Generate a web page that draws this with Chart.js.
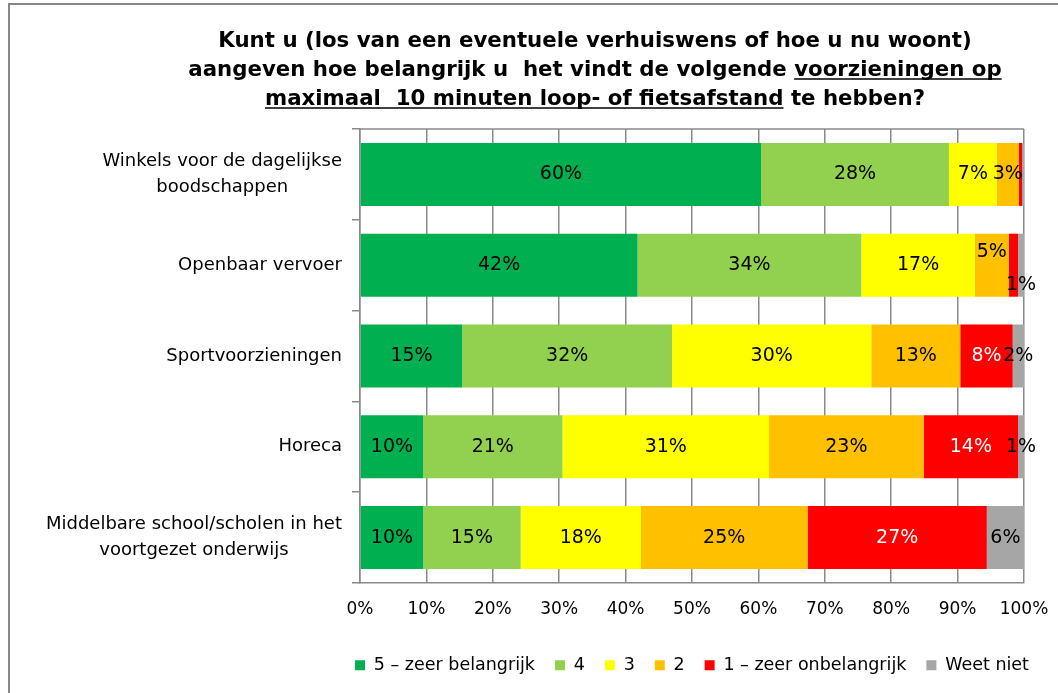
<!DOCTYPE html>
<html>
<head>
<meta charset="utf-8">
<title>Voorzieningen op loop- of fietsafstand</title>
<script src="https://cdn.jsdelivr.net/npm/chart.js@4"></script>
<style>
  html, body { margin: 0; padding: 0; background: #fff; }
  #wrap { width: 1058px; height: 693px; }
</style>
</head>
<body>
<div id="wrap"><canvas id="chart" width="1058" height="693"></canvas></div>
<script>
// categorieen (regels van het label)
const categories = [
    ['Winkels voor de dagelijkse', 'boodschappen'],
    ['Openbaar vervoer'],
    ['Sportvoorzieningen'],
    ['Horeca'],
    ['Middelbare school/scholen in het', 'voortgezet onderwijs']
];

// antwoordcategorieen
const seriesNames = ['5 – zeer belangrijk', '4', '3', '2', '1 – zeer onbelangrijk', 'Weet niet'];

const zeerBelangrijk = [60.4, 41.8, 15.4, 9.5, 9.5];
const score4 = [28.3, 33.7, 31.6, 21.0, 14.7];
const score3 = [7.2, 17.1, 30.0, 31.1, 18.1];
const score2 = [3.3, 5.1, 13.4, 23.3, 25.1];
const zeerOnbelangrijk = [0.5, 1.4, 7.9, 14.2, 27.0];
const weetNiet = [0.3, 0.9, 1.7, 0.9, 5.6];

// as-labels
const xTicks = [0, 10, 20, 30, 40, 50, 60, 70, 80, 90, 100];

// titel, stukken met onderstreping
const titleLines = [
    [['Kunt u (los van een eventuele verhuiswens of hoe u nu woont)', false]],
    [['aangeven hoe belangrijk u  het vindt de volgende ', false], ['voorzieningen op', true]],
    [['maximaal  10 minuten loop- of fietsafstand', true], [' te hebben?', false]]
];

const colors = ['#00B050', '#92D050', '#FFFF00', '#FFC000', '#FF0000', '#A6A6A6'];
const labelColors = ['#000', '#000', '#000', '#000', '#fff', '#000'];
const FONT = "'DejaVu Sans', sans-serif";
const GRID = '#8a8a8a';

// labels die in het origineel weggelaten zijn [rij, reeks]
const hiddenLabels = [[0, 4], [0, 5], [1, 4]];
// handmatig verschoven labels (rij 2)
const labelShift = { '1-3': -13, '1-5': 20 };

const allSeries = [zeerBelangrijk, score4, score3, score2, zeerOnbelangrijk, weetNiet];

Chart.defaults.font.family = FONT;
Chart.defaults.color = '#000';

const framePlugin = {
    id: 'frame',
    beforeDraw(chart) {
        const c = chart.ctx;
        c.save();
        c.fillStyle = '#fff';
        c.fillRect(0, 0, chart.width, chart.height);
        c.strokeStyle = '#878787';
        c.lineWidth = 2;
        c.beginPath();
        c.moveTo(9, chart.height);
        c.lineTo(9, 4);
        c.lineTo(chart.width, 4);
        c.stroke();
        c.restore();
    }
};

// legenda centreren boven het plotvlak (zoals Excel)
const legendShift = {
    id: 'legendShift',
    afterLayout(chart) {
        const lg = chart.legend;
        const a = chart.chartArea;
        const d = (a.left + a.right) / 2 - (lg.left + lg.right) / 2;
        lg.left += d;
        lg.right += d;
    }
};

const titlePlugin = {
    id: 'ulTitle',
    afterDraw(chart) {
        const c = chart.ctx;
        c.save();
        c.font = 'bold 21.3px ' + FONT;
        c.textBaseline = 'alphabetic';
        c.fillStyle = '#000';
        c.strokeStyle = '#000';
        c.lineWidth = 1.6;
        const cx = 595;
        titleLines.forEach((parts, i) => {
            const base = 47 + i * 29;
            let total = 0;
            parts.forEach(p => total += c.measureText(p[0]).width);
            let x = cx - total / 2;
            parts.forEach(p => {
                const w = c.measureText(p[0]).width;
                c.fillText(p[0], x, base);
                if (p[1]) {
                    c.beginPath();
                    c.moveTo(x, base + 3);
                    c.lineTo(x + w, base + 3);
                    c.stroke();
                }
                x += w;
            });
        });
        c.restore();
    }
};

const plotPlugin = {
    id: 'plotExtras',
    afterDatasetsDraw(chart) {
        const c = chart.ctx;
        const area = chart.chartArea;
        c.save();
        // bovenrand van het plotvlak
        c.strokeStyle = GRID;
        c.lineWidth = 1.5;
        c.beginPath();
        c.moveTo(area.left, area.top);
        c.lineTo(area.right, area.top);
        c.stroke();

        // waarden in de balken
        c.font = '19px ' + FONT;
        c.textAlign = 'center';
        c.textBaseline = 'middle';
        chart.data.datasets.forEach((ds, s) => {
            const meta = chart.getDatasetMeta(s);
            meta.data.forEach((bar, r) => {
                if (hiddenLabels.some(h => h[0] === r && h[1] === s)) return;
                const v = ds.data[r];
                const x = (bar.x + bar.base) / 2;
                const y = bar.y + (labelShift[r + '-' + s] || 0);
                c.fillStyle = labelColors[s];
                c.fillText(Math.round(v) + '%', x, y);
            });
        });

        // categorielabels: rechts uitgelijnd blok, regels gecentreerd
        const yScale = chart.scales.y;
        c.fillStyle = '#000';
        c.font = '18px ' + FONT;
        const right = yScale.right - 18;
        categories.forEach((lines, i) => {
            const yc = yScale.getPixelForValue(i);
            let maxW = 0;
            lines.forEach(l => maxW = Math.max(maxW, c.measureText(l).width));
            const xc = right - maxW / 2;
            lines.forEach((l, j) => {
                c.fillText(l, xc, yc + (j - (lines.length - 1) / 2) * 26);
            });
        });
        c.restore();
    }
};

const ctx = document.getElementById('chart').getContext('2d');
const chart = new Chart(ctx, {
    type: 'bar',
    data: {
        labels: categories.map(l => l.join(' ')),
        datasets: seriesNames.map((name, i) => ({
            label: name,
            data: allSeries[i],
            backgroundColor: colors[i],
            borderWidth: 0,
            categoryPercentage: 0.694,
            barPercentage: 1
        }))
    },
    options: {
        indexAxis: 'y',
        responsive: false,
        animation: false,
        layout: { padding: { top: 129, right: 34, left: 0, bottom: 9 } },
        scales: {
            x: {
                stacked: true,
                min: 0,
                max: 100,
                afterBuildTicks(scale) {
                    scale.ticks = xTicks.map(v => ({ value: v }));
                },
                afterFit(scale) {
                    scale.height = 53.5;
                    scale.paddingLeft = 0;
                    scale.paddingRight = 0;
                },
                ticks: {
                    padding: 16,
                    font: { size: 17 },
                    color: '#000',
                    callback: v => v + '%'
                },
                grid: { color: GRID, lineWidth: 1.5, drawTicks: false },
                border: { color: GRID, width: 1.5 }
            },
            y: {
                stacked: true,
                afterFit(scale) { scale.width = 360; },
                ticks: { display: false },
                grid: {
                    offset: true,
                    drawOnChartArea: false,
                    drawTicks: true,
                    tickLength: 8,
                    color: GRID,
                    lineWidth: 1.5
                },
                border: { color: GRID, width: 1.5 }
            }
        },
        plugins: {
            title: { display: false },
            tooltip: { enabled: false },
            legend: {
                position: 'bottom',
                fullSize: true,
                labels: {
                    boxWidth: 10,
                    boxHeight: 10,
                    padding: 20,
                    color: '#000',
                    font: { size: 17.5 }
                }
            }
        }
    },
    plugins: [framePlugin, legendShift, titlePlugin, plotPlugin]
});
</script>
</body>
</html>
